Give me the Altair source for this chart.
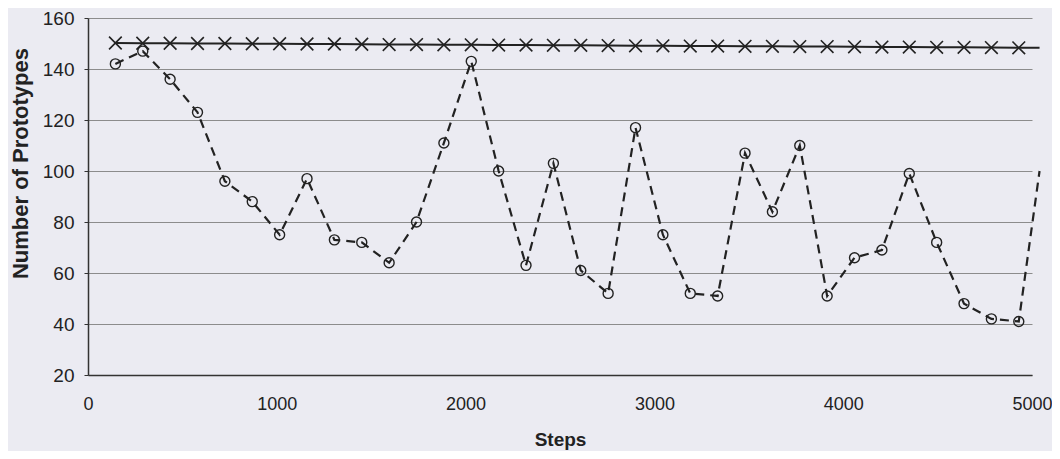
import altair as alt
import pandas as pd

# x positions (steps) of the sampled points; last entry is where the visible line leaves the plot
steps = [145, 290, 435, 580, 725, 870, 1015, 1160, 1305, 1450,
         1595, 1740, 1885, 2030, 2175, 2320, 2465, 2610, 2755, 2900,
         3045, 3190, 3335, 3480, 3625, 3770, 3915, 4060, 4205, 4350,
         4495, 4640, 4785, 4930, 5040]

# open-circle, dashed series
prototypes = [142, 147, 136, 123, 96, 88, 75, 97, 73, 72,
              64, 80, 111, 143, 100, 63, 103, 61, 52, 117,
              75, 52, 51, 107, 84, 110, 51, 66, 69, 99,
              72, 48, 42, 41, 100]

# X-marker, solid series
upper = [150.2, 150.1, 150.1, 150.0, 150.0, 149.9, 149.9, 149.8, 149.8, 149.7,
         149.6, 149.6, 149.5, 149.5, 149.4, 149.4, 149.3, 149.3, 149.2, 149.1,
         149.1, 149.0, 149.0, 148.9, 148.9, 148.8, 148.8, 148.7, 148.6, 148.6,
         148.5, 148.5, 148.4, 148.3, 148.3]

x_ticks = [0, 1000, 2000, 3000, 4000, 5000]
y_ticks = [20, 40, 60, 80, 100, 120, 140, 160]
last_marker_step = 4930

df_c = pd.DataFrame({"step": steps, "value": prototypes})
df_x = pd.DataFrame({"step": steps, "value": upper})

INK = "#222222"
FONT = "Liberation Sans"

x_enc = alt.X(
    "step:Q",
    scale=alt.Scale(domain=[0, 5000], nice=False, zero=False),
    axis=alt.Axis(
        values=x_ticks, format="d", grid=False, ticks=False, tickSize=0,
        domainColor="#333333", domainWidth=1.5,
        labelFont=FONT, labelFontSize=18, labelColor=INK, labelPadding=20,
        labelFlush=False,
        title="Steps", titleFont=FONT, titleFontSize=19, titleFontWeight="bold",
        titleColor=INK, titleY=64, titleBaseline="middle",
    ),
)
y_enc = alt.Y(
    "value:Q",
    scale=alt.Scale(domain=[20, 160], nice=False, zero=False),
    axis=alt.Axis(
        values=y_ticks, format="d", grid=True, gridColor="#8c8c8c", gridWidth=1,
        ticks=True, tickSize=4, tickColor="#333333",
        domainColor="#333333", domainWidth=1.5,
        labelFont=FONT, labelFontSize=19, labelColor=INK, labelPadding=10,
        title="Number of Prototypes", titleFont=FONT, titleFontSize=22,
        titleFontWeight="bold", titleColor=INK, titleAngle=270,
        titleX=-68, titleY=145, titleAlign="center", titleBaseline="middle",
    ),
)

line_c = alt.Chart(df_c).mark_line(
    color=INK, strokeWidth=2.2, strokeDash=[9, 6], clip=False
).encode(x=x_enc, y=y_enc)

pts_c = alt.Chart(df_c).transform_filter(
    alt.datum.step <= last_marker_step
).mark_point(
    shape="circle", filled=False, size=100, strokeWidth=1.4, color=INK, opacity=1
).encode(x=x_enc, y=y_enc)

line_x = alt.Chart(df_x).mark_line(
    color=INK, strokeWidth=2, clip=False
).encode(x=x_enc, y=y_enc)

pts_x = alt.Chart(df_x).transform_filter(
    alt.datum.step <= last_marker_step
).mark_point(
    shape="M-1,-1L1,1M-1,1L1,-1", filled=False, size=160, strokeWidth=1.6,
    color=INK, opacity=1
).encode(x=x_enc, y=y_enc)

chart = alt.layer(line_x, pts_x, line_c, pts_c).properties(
    width=944,
    height=357,
    padding={"left": 80, "top": 10, "right": 20, "bottom": 76},
    autosize=alt.AutoSizeParams(type="none"),
    background="#ebebf2",
).configure_view(strokeWidth=0)

chart.save("out.html", embed_options={"renderer": "svg", "actions": False})
